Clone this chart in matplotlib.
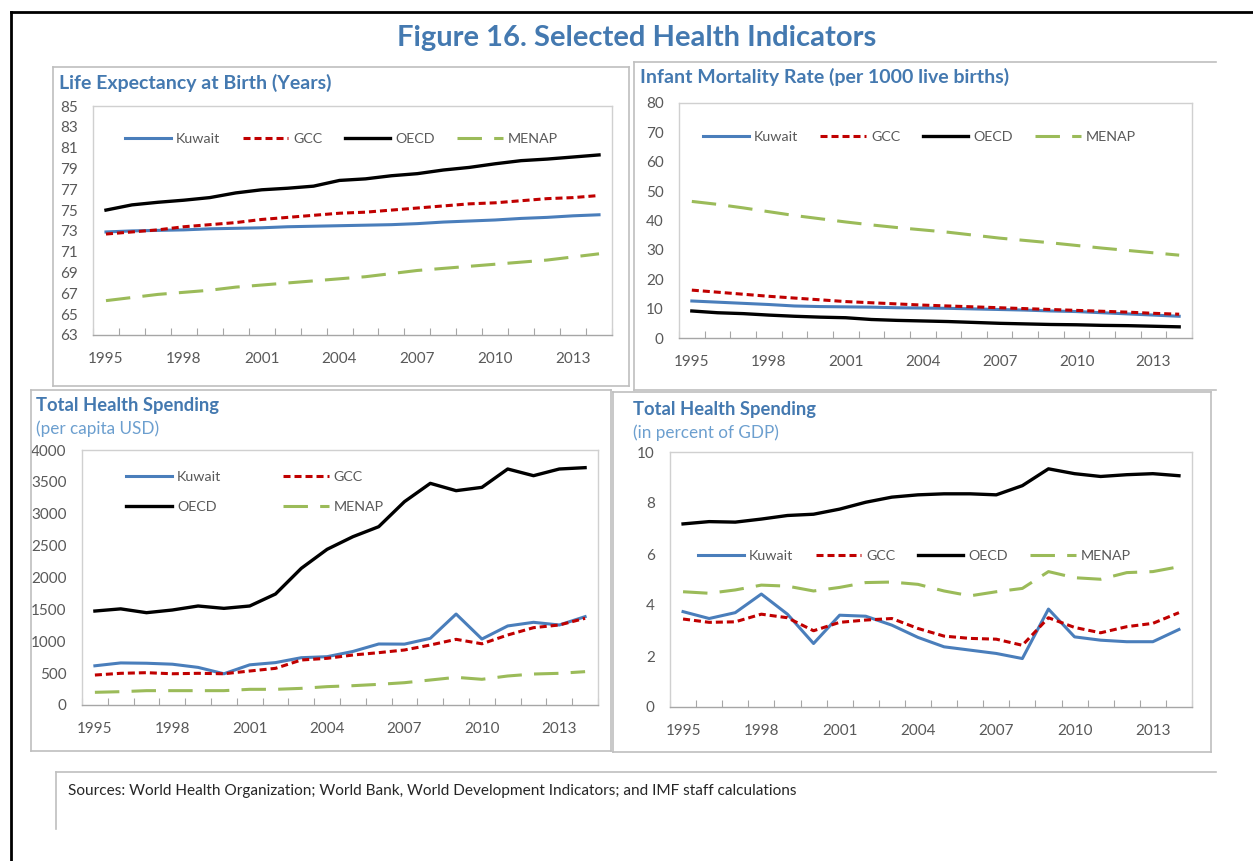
import matplotlib.pyplot as plt
from matplotlib.lines import Line2D
import numpy as np

years = list(range(1995, 2015))

# Life expectancy at birth (years)
life_kuwait = [72.9, 73.0, 73.05, 73.1, 73.2, 73.25, 73.3, 73.4, 73.45, 73.5,
               73.55, 73.6, 73.7, 73.85, 73.95, 74.05, 74.2, 74.3, 74.45, 74.55]
life_gcc = [72.7, 72.9, 73.1, 73.4, 73.6, 73.8, 74.1, 74.3, 74.5, 74.7,
            74.8, 75.0, 75.2, 75.4, 75.6, 75.7, 75.9, 76.1, 76.2, 76.4]
life_oecd = [75.0, 75.5, 75.75, 75.95, 76.2, 76.65, 76.95, 77.1, 77.3, 77.85,
             78.0, 78.3, 78.5, 78.85, 79.1, 79.45, 79.75, 79.9, 80.1, 80.3]
life_menap = [66.3, 66.6, 66.9, 67.1, 67.3, 67.6, 67.8, 68.0, 68.2, 68.4,
              68.6, 68.9, 69.2, 69.4, 69.6, 69.8, 70.0, 70.2, 70.5, 70.8]

# Infant mortality (per 1000 live births)
imr_kuwait = [12.6, 12.2, 11.8, 11.4, 10.9, 10.7, 10.6, 10.5, 10.3, 10.2,
              10.1, 9.9, 9.7, 9.5, 9.2, 9.0, 8.6, 8.2, 7.8, 7.4]
imr_gcc = [16.3, 15.6, 14.9, 14.2, 13.6, 13.0, 12.4, 12.0, 11.6, 11.2,
           10.9, 10.6, 10.3, 10.0, 9.7, 9.4, 9.1, 8.8, 8.4, 8.1]
imr_oecd = [9.2, 8.6, 8.3, 7.8, 7.4, 7.1, 6.9, 6.3, 6.0, 5.8,
            5.6, 5.3, 5.0, 4.8, 4.6, 4.5, 4.3, 4.2, 4.0, 3.8]
imr_menap = [46.5, 45.5, 44.3, 43.0, 41.7, 40.6, 39.5, 38.5, 37.6, 36.8,
             36.0, 35.0, 34.0, 33.2, 32.4, 31.5, 30.6, 29.8, 29.0, 28.2]

# Total health spending, per capita USD
usd_kuwait = [615, 660, 655, 640, 590, 490, 630, 665, 742, 758,
              840, 957, 955, 1046, 1427, 1035, 1240, 1297, 1255, 1386]
usd_gcc = [470, 497, 507, 490, 497, 490, 533, 575, 706, 732,
           784, 821, 863, 941, 1030, 960, 1098, 1213, 1255, 1360]
usd_oecd = [1474, 1508, 1448, 1490, 1553, 1516, 1553, 1741, 2144, 2442,
            2640, 2797, 3190, 3477, 3362, 3414, 3702, 3597, 3702, 3723]
usd_menap = [199, 209, 225, 225, 225, 225, 246, 246, 261, 288,
             303, 324, 350, 392, 434, 403, 455, 486, 497, 523]

# Total health spending, percent of GDP
gdp_kuwait = [3.74, 3.47, 3.70, 4.43, 3.64, 2.49, 3.60, 3.56, 3.21, 2.73,
              2.36, 2.23, 2.10, 1.90, 3.84, 2.75, 2.62, 2.56, 2.56, 3.04]
gdp_gcc = [3.45, 3.32, 3.34, 3.64, 3.50, 2.99, 3.32, 3.41, 3.47, 3.08,
           2.78, 2.69, 2.66, 2.42, 3.50, 3.12, 2.91, 3.15, 3.28, 3.70]
gdp_oecd = [7.18, 7.27, 7.25, 7.37, 7.51, 7.56, 7.76, 8.03, 8.23, 8.32,
            8.36, 8.36, 8.32, 8.68, 9.34, 9.15, 9.04, 9.11, 9.15, 9.07]
gdp_menap = [4.52, 4.46, 4.59, 4.78, 4.74, 4.55, 4.69, 4.88, 4.90, 4.81,
             4.55, 4.36, 4.52, 4.65, 5.31, 5.07, 5.01, 5.27, 5.31, 5.50]

series_names = ['Kuwait', 'GCC', 'OECD', 'MENAP']

plt.rcParams['font.family'] = ['Lato', 'DejaVu Sans']

W, H = 1253, 861
fig = plt.figure(figsize=(W / 100, H / 100), dpi=100)

blue_title = '#4479B0'
grey_txt = '#595959'
box_col = '#BFBFBF'

styles = {
    'Kuwait': dict(color='#4A7EBB', lw=2.2, ls='-'),
    'GCC': dict(color='#C00000', lw=2.2, ls=(0, (2.3, 1.3))),
    'OECD': dict(color='black', lw=2.4, ls='-'),
    'MENAP': dict(color='#9BBB59', lw=2.2, ls=(0, (8, 4))),
}


def fx(x):
    return x / W


def fy(y):
    return 1 - y / H


def hline(x0, x1, y, color=box_col, lw=1.2):
    fig.add_artist(Line2D([fx(x0), fx(x1)], [fy(y), fy(y)], color=color, lw=lw))


def vline(x, y0, y1, color=box_col, lw=1.2):
    fig.add_artist(Line2D([fx(x), fx(x)], [fy(y0), fy(y1)], color=color, lw=lw))


def box(l, r, t, b):
    hline(l, r, t)
    hline(l, r, b)
    vline(l, t, b)
    vline(r, t, b)


def panel(l, r, t, b, data, ylim, yticks):
    ax = fig.add_axes([fx(l), fy(b), fx(r - l), (b - t) / H])
    x = np.arange(len(years))
    for name, vals in zip(series_names, data):
        ax.plot(x, vals, label=name, **styles[name])
    ax.set_xlim(-0.5, len(years) - 0.5)
    ax.set_ylim(*ylim)
    ax.set_yticks(yticks)
    ax.set_xticks(x[::3])
    ax.set_xticklabels([str(y) for y in years[::3]])
    ax.set_xticks(np.arange(-0.5, len(years), 1), minor=True)
    ax.tick_params(axis='x', which='major', length=0, pad=12.5, labelsize=11, labelcolor=grey_txt)
    ax.tick_params(axis='x', which='minor', direction='in', length=5, width=0.8, color='#A6A6A6')
    ax.tick_params(axis='y', length=0, pad=11, labelsize=11, labelcolor=grey_txt)
    for s in ax.spines.values():
        s.set_color('#D0D0D0')
        s.set_linewidth(1)
    ax.spines['bottom'].set_color('#A6A6A6')
    return ax


def add_legend(ax, x, y, order, ncol, colspace, labelspacing=0.5):
    handles, labels = ax.get_legend_handles_labels()
    hd = dict(zip(labels, handles))
    ax.legend([hd[n] for n in order], order, loc='center left', bbox_to_anchor=(x, y),
              ncol=ncol, frameon=False, fontsize=10.3, handlelength=3.2, handletextpad=0.35,
              columnspacing=colspace, labelspacing=labelspacing, borderpad=0,
              borderaxespad=0, labelcolor=grey_txt)


# outer frame
hline(11, W, 12, color='black', lw=2)
vline(11, 12, H, color='black', lw=2)

fig.text(fx(637), fy(38), 'Figure 16. Selected Health Indicators', ha='center', va='center',
         fontsize=21, fontweight='bold', color=blue_title)

# panel 1
box(53, 629, 67, 386)
fig.text(fx(59), fy(83), 'Life Expectancy at Birth (Years)', ha='left', va='center',
         fontsize=14, fontweight='bold', color=blue_title)
ax1 = panel(93, 612, 106, 335, [life_kuwait, life_gcc, life_oecd, life_menap],
            (63, 85), range(63, 86, 2))
add_legend(ax1, 0.062, 0.855, series_names, 4, 1.55)

# panel 2
hline(634, 1216, 62)
hline(634, 1216, 390)
vline(634, 62, 390)
fig.text(fx(640), fy(77), 'Infant Mortality Rate (per 1000 live births)', ha='left', va='center',
         fontsize=14, fontweight='bold', color=blue_title)
ax2 = panel(679, 1192, 103, 338, [imr_kuwait, imr_gcc, imr_oecd, imr_menap],
            (0, 80), range(0, 81, 10))
add_legend(ax2, 0.047, 0.855, series_names, 4, 1.55)

# panel 3
box(31, 611, 390, 751)
fig.text(fx(36), fy(406), 'Total Health Spending', ha='left', va='center',
         fontsize=13.2, fontweight='bold', color=blue_title)
fig.text(fx(36), fy(429), '(per capita USD)', ha='left', va='center',
         fontsize=12.3, color='#6C9FCF')
ax3 = panel(82, 598, 450, 705, [usd_kuwait, usd_gcc, usd_oecd, usd_menap],
            (0, 4000), range(0, 4001, 500))
add_legend(ax3, 0.086, 0.835, ['Kuwait', 'OECD', 'GCC', 'MENAP'], 2, 4.3, labelspacing=1.25)

# panel 4
box(613, 1211, 392, 752)
fig.text(fx(633), fy(409), 'Total Health Spending', ha='left', va='center',
         fontsize=13.2, fontweight='bold', color=blue_title)
fig.text(fx(633), fy(433), '(in percent of GDP)', ha='left', va='center',
         fontsize=12.3, color='#6C9FCF')
ax4 = panel(670, 1192, 452, 707, [gdp_kuwait, gdp_gcc, gdp_oecd, gdp_menap],
            (0, 10), range(0, 11, 2))
add_legend(ax4, 0.054, 0.592, series_names, 4, 1.55)

# sources
hline(56, 1216, 772)
vline(56, 772, 829)
fig.text(fx(68), fy(791), 'Sources: World Health Organization; World Bank, World Development '
         'Indicators; and IMF staff calculations', ha='left', va='center', fontsize=11.1,
         color='#262626')

fig.savefig('out.png', dpi=100)
